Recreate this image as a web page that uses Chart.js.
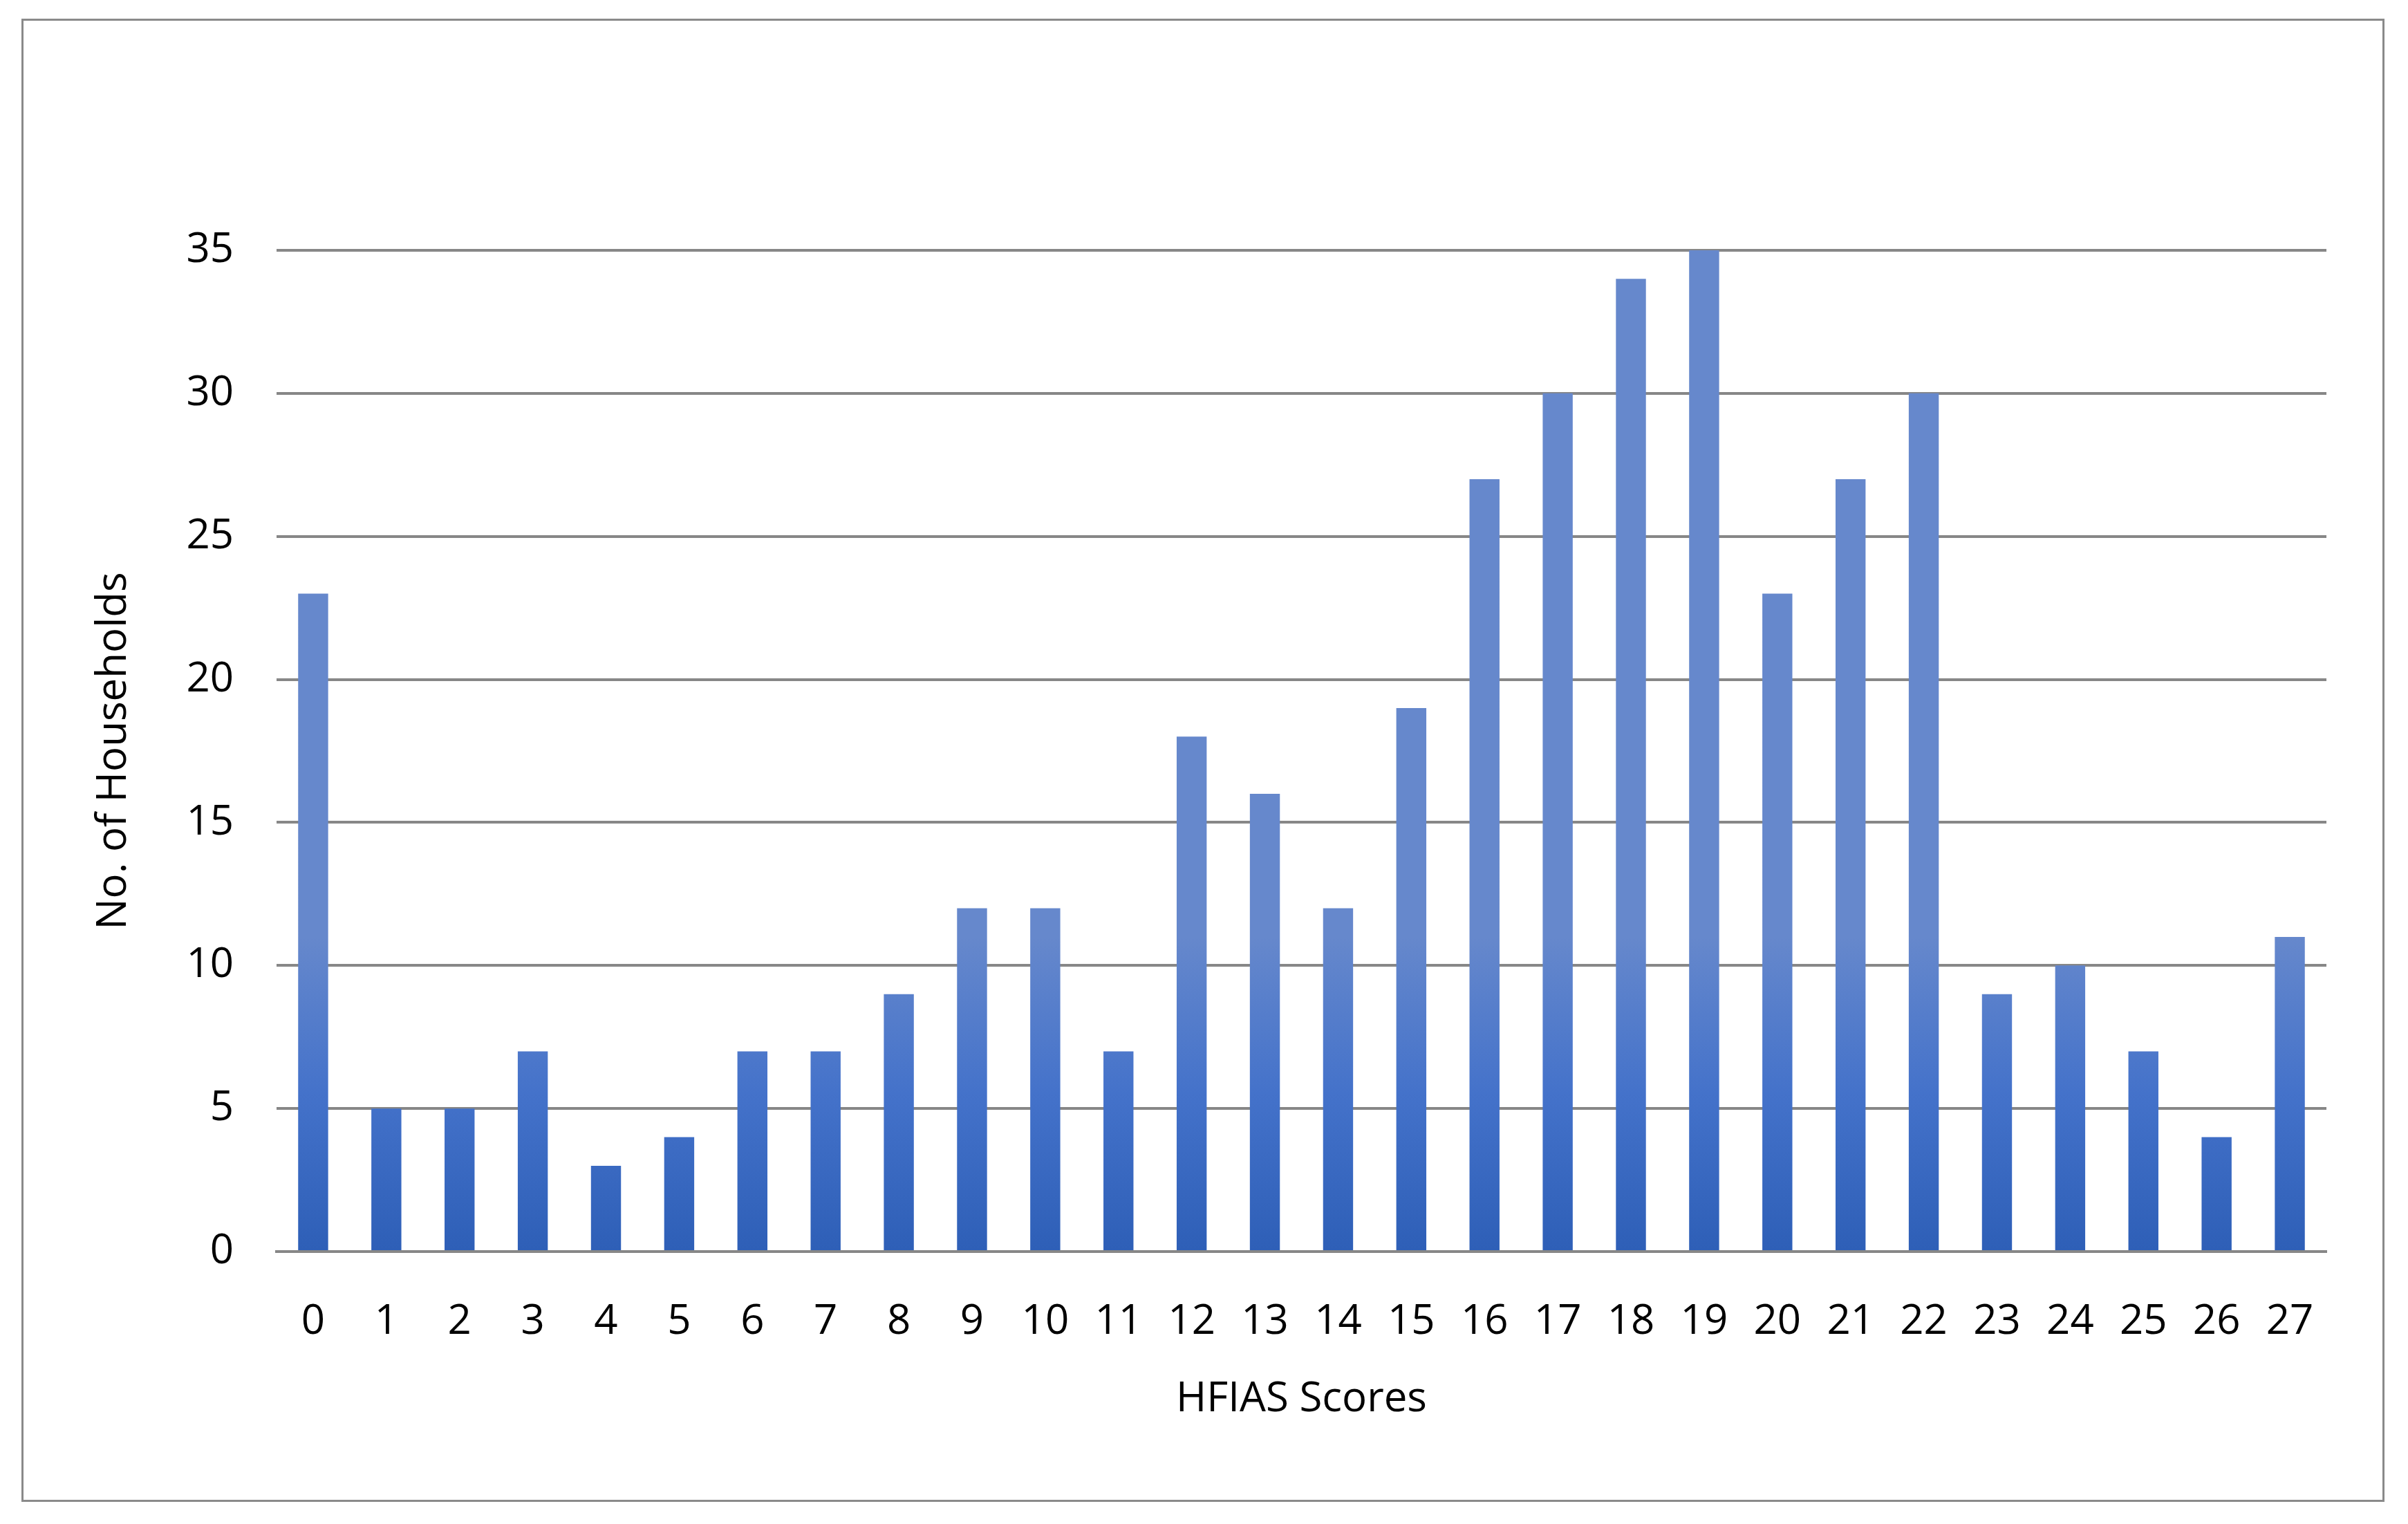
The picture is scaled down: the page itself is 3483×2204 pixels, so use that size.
<!DOCTYPE html>
<html>
<head>
<meta charset="utf-8">
<script src="https://cdn.jsdelivr.net/npm/chart.js@4"></script>
<style>
  html, body { margin: 0; padding: 0; background: #fff; }
  #wrap { position: relative; width: 3483px; height: 2204px; }
  #frame { position: absolute; left: 31px; top: 27px; width: 3412px; height: 2139px; border: 3px solid #8a8a8a; }
  canvas { position: absolute; left: 0; top: 0; }
</style>
</head>
<body>
<div id="wrap">
  <div id="frame"></div>
  <canvas id="chart" width="3483" height="2204"></canvas>
</div>
<script>
const scores = ['0','1','2','3','4','5','6','7','8','9','10','11','12','13','14','15','16','17','18','19','20','21','22','23','24','25','26','27'];
const households = [23, 5, 5, 7, 3, 4, 7, 7, 9, 12, 12, 7, 18, 16, 12, 19, 27, 30, 34, 35, 23, 27, 30, 9, 10, 7, 4, 11];

// each bar gets its own top-to-bottom gradient
const barGradient = {
  id: 'barGradient',
  beforeDatasetDraw(chart, args) {
    const ctx = chart.ctx;
    args.meta.data.forEach(bar => {
      const g = ctx.createLinearGradient(0, bar.y, 0, bar.base);
      g.addColorStop(0, '#6688cc');
      g.addColorStop(0.5, '#4472ca');
      g.addColorStop(1, '#2e5fb7');
      bar.options.backgroundColor = g;
    });
  }
};

const font = { family: 'Open Sans', size: 60 };

new Chart(document.getElementById('chart'), {
  type: 'bar',
  data: {
    labels: scores,
    datasets: [{ data: households, backgroundColor: '#4472c4', barPercentage: 0.41, categoryPercentage: 1 }]
  },
  options: {
    responsive: false,
    animation: false,
    layout: { padding: { left: 125, right: 118, top: 362, bottom: 140 } },
    plugins: { legend: { display: false }, tooltip: { enabled: false } },
    scales: {
      x: {
        grid: { display: false },
        border: { display: true, color: '#878787', width: 4 },
        ticks: { color: '#000', font, padding: 58, maxRotation: 0 },
        title: { display: true, text: 'HFIAS Scores', color: '#000', font },
        afterFit(scale) { scale.height = 254; }
      },
      y: {
        min: 0, max: 35,
        ticks: { stepSize: 5, color: '#000', font, padding: 62 },
        grid: { color: '#878787', lineWidth: 4, drawTicks: false },
        border: { display: false },
        title: { display: true, text: 'No. of Households', color: '#000', font },
        afterFit(scale) { scale.width = 275; }
      }
    }
  },
  plugins: [barGradient]
});
</script>
</body>
</html>
